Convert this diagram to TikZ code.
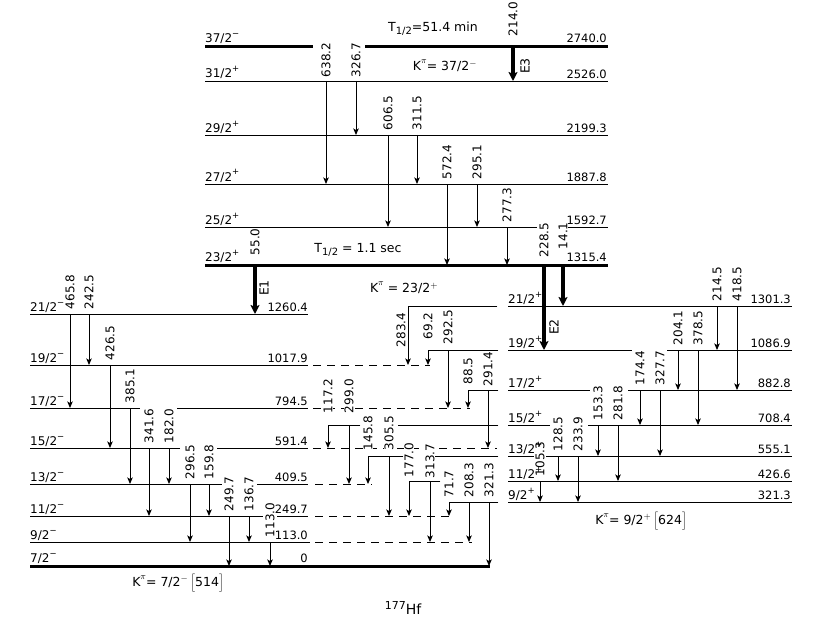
\documentclass[tikz,border=0pt]{standalone}
\usepackage{fontspec}
\setmainfont{DejaVu Sans}
\usetikzlibrary{arrows.meta}
\newcount\trcnt
\tikzset{
  lvl/.style={line width=0.95pt},
  thk/.style={line width=3pt},
  dsh/.style={line width=0.95pt, dash pattern=on 8pt off 6pt},
  leader/.style={line width=0.95pt, line cap=rect},
  tr/.style={line width=0.9pt, -{Stealth[length=6.5pt,width=5.5pt,inset=1.5pt]}},
  trthick/.style={line width=3.3pt, -{Stealth[length=9pt,width=9pt,inset=2pt]}},
  lab/.style={font=\fontsize{12}{13}\selectfont, inner sep=0.6pt, fill=white, rotate=90, anchor=west},
  en/.style={font=\fontsize{11.5}{13}\selectfont, inner sep=0pt, anchor=base east},
  sp/.style={font=\fontsize{12}{13}\selectfont, inner sep=0pt, anchor=base west},
  txt/.style={font=\fontsize{12.5}{14}\selectfont, inner sep=0pt}
}
\newcommand\trx[5][4]{%
  \global\advance\trcnt by 1
  \draw[tr] (#2,#3) -- (#2,#4);
  \node[lab] (g\the\trcnt) at (#2,#3-#1) {#5};
}
\newcommand\trt[5]{%
  \global\advance\trcnt by 1
  \draw[trthick] (#1,#2) -- (#1,#3);
  \node[lab] (g\the\trcnt) at (#1,#4) {#5};
}
\newcommand\spn[2]{#1\raisebox{0.5em}{\fontsize{8.5}{8.5}\selectfont #2}}
\newcommand\hlf{\raisebox{-0.45ex}{\fontsize{10}{10}\selectfont 1/2}}
\newcommand\kpi{K\raisebox{0.55em}{\fontsize{9}{9}\selectfont$\pi$}}
\begin{document}
\begin{tikzpicture}[x=1pt,y=-1pt]
\useasboundingbox (0,0) rectangle (831,626);
% ---------- upper band ----------
\draw[thk] (205,47) -- (313,47); \draw[thk] (365,47) -- (608,47);
\draw[lvl] (205,81) -- (608,81);
\draw[lvl] (205,135) -- (608,135);
\draw[lvl] (205,184) -- (608,184);
\draw[lvl] (205,227) -- (537,227); \draw[lvl] (567,227) -- (608,227);
\draw[thk] (205,265) -- (608,265);
% ---------- left band ----------
\draw[lvl] (30,314) -- (308,314);
\draw[lvl] (30,365) -- (308,365); \draw[dsh] (313,365) -- (430,365);
\draw[lvl] (30,408) -- (140,408); \draw[lvl] (177,408) -- (308,408); \draw[dsh] (313,408) -- (470,408);
\draw[lvl] (30,448) -- (180,448); \draw[lvl] (217,448) -- (308,448); \draw[dsh] (313,448) -- (497,448);
\draw[lvl] (30,484) -- (222,484); \draw[lvl] (257,484) -- (308,484); \draw[dsh] (315,484) -- (372,484);
\draw[lvl] (30,516) -- (263,516); \draw[lvl] (277,516) -- (308,516); \draw[dsh] (315,516) -- (452,516);
\draw[lvl] (30,542) -- (310,542); \draw[dsh] (315,542) -- (472,542);
\draw[thk] (30,566) -- (490,566);
% ---------- right band ----------
\draw[lvl] (508,306) -- (792,306); \draw[leader] (408,306) -- (497,306);
\draw[lvl] (508,350) -- (632,350); \draw[lvl] (667,350) -- (792,350); \draw[leader] (428,350) -- (498,350);
\draw[lvl] (508,390) -- (590,390); \draw[lvl] (628,390) -- (792,390); \draw[leader] (468,390) -- (498,390);
\draw[lvl] (508,425) -- (550,425); \draw[lvl] (588,425) -- (792,425);
\draw[leader] (328,425) -- (360,425); \draw[leader] (398,425) -- (498,425);
\draw[lvl] (508,456) -- (534,456); \draw[lvl] (546,456) -- (792,456);
\draw[leader] (368,456) -- (403,456); \draw[leader] (435,456) -- (498,456);
\draw[lvl] (508,481) -- (792,481); \draw[leader] (409,481) -- (440,481);
\draw[lvl] (508,502) -- (792,502); \draw[leader] (449,502) -- (498,502);
% ---------- transitions: upper band ----------
\trx[3]{326}{81}{184}{638.2}
\trx[3]{356}{81}{135}{326.7}
\trx{388}{135}{227}{606.5}
\trx{417}{135}{184}{311.5}
\trx{447}{184}{265}{572.4}
\trx{477}{184}{227}{295.1}
\trx{507}{227}{265}{277.3}
\trt{513}{47}{81}{37}{214.0}
\trt{255}{265}{314}{256}{55.0}
\trt{544}{265}{350}{258}{228.5}
\trt{563}{265}{306}{250}{14.1}
% ---------- transitions: left band ----------
\trx{70}{314}{408}{465.8}
\trx{89}{314}{365}{242.5}
\trx{110}{365}{448}{426.5}
\trx{130}{408}{484}{385.1}
\trx{149}{448}{516}{341.6}
\trx{169}{448}{484}{182.0}
\trx{190}{484}{542}{296.5}
\trx{209}{484}{516}{159.8}
\trx{229}{516}{566}{249.7}
\trx{249}{516}{542}{136.7}
\trx{270}{542}{566}{113.0}
% ---------- transitions: inter-band ----------
\draw[tr] (408,306) -- (408,365);
\node[lab] (g283) at (401,348) {283.4};
\trx[10]{428}{350}{365}{69.2}
\trx[5]{448}{350}{408}{292.5}
\trx[5]{468}{390}{408}{88.5}
\trx[3]{488}{390}{448}{291.4}
\trx[11]{328}{425}{448}{117.2}
\trx[11]{349}{425}{484}{299.0}
\trx[5]{368}{456}{484}{145.8}
\trx[5]{389}{456}{516}{305.5}
\trx[3]{409}{481}{516}{177.0}
\trx[2]{430}{481}{542}{313.7}
\trx[4]{449}{502}{516}{71.7}
\trx[4]{469}{502}{542}{208.3}
\trx[4]{489}{502}{566}{321.3}
% ---------- transitions: right band ----------
\trx{717}{306}{350}{214.5}
\trx{737}{306}{390}{418.5}
\trx{678}{350}{390}{204.1}
\trx{698}{350}{425}{378.5}
\trx{640}{390}{425}{174.4}
\trx{660}{390}{456}{327.7}
\trx{598}{425}{456}{153.3}
\trx{618}{425}{481}{281.8}
\trx{558}{456}{481}{128.5}
\trx{578}{456}{502}{233.9}
\trx{540}{481}{502}{105.3}
% ---------- energies ----------
\node[en] (e2740) at (607,43) {2740.0};
\node[en] (e2526) at (607,78.5) {2526.0};
\node[en] (e2199) at (607,132.5) {2199.3};
\node[en] (e1887) at (607,181.5) {1887.8};
\node[en] (e1592) at (607,224.5) {1592.7};
\node[en] (e1315) at (607,261.5) {1315.4};
\node[en] (e1260) at (308,311.5) {1260.4};
\node[en] (e1017) at (308,362.5) {1017.9};
\node[en] (e794) at (308,405.5) {794.5};
\node[en] (e591) at (308,445.5) {591.4};
\node[en] (e409) at (308,481.5) {409.5};
\node[en] (e249) at (308,513.5) {249.7};
\node[en] (e113) at (308,539.5) {113.0};
\node[en] (e0) at (308,562.5) {0};
\node[en] (e1301) at (791,303.5) {1301.3};
\node[en] (e1086) at (791,347.5) {1086.9};
\node[en] (e882) at (791,387.5) {882.8};
\node[en] (e708) at (791,422.5) {708.4};
\node[en] (e555) at (791,453.5) {555.1};
\node[en] (e426) at (791,478.5) {426.6};
\node[en] (e321) at (791,499.5) {321.3};
% ---------- spins ----------
\node[sp] (s37) at (205,43) {\spn{37/2}{−}};
\node[sp] (s31) at (205,78) {\spn{31/2}{+}};
\node[sp] (s29) at (205,132) {\spn{29/2}{+}};
\node[sp] (s27) at (205,181) {\spn{27/2}{+}};
\node[sp] (s25) at (205,224) {\spn{25/2}{+}};
\node[sp] (s23) at (205,261) {\spn{23/2}{+}};
\node[sp] (l21) at (30,311) {\spn{21/2}{−}};
\node[sp] (l19) at (30,362) {\spn{19/2}{−}};
\node[sp] (l17) at (30,405) {\spn{17/2}{−}};
\node[sp] (l15) at (30,445) {\spn{15/2}{−}};
\node[sp] (l13) at (30,481) {\spn{13/2}{−}};
\node[sp] (l11) at (30,513) {\spn{11/2}{−}};
\node[sp] (l9) at (30,539) {\spn{9/2}{−}};
\node[sp] (l7) at (30,562) {\spn{7/2}{−}};
\node[sp] (r21) at (508,303) {\spn{21/2}{+}};
\node[sp] (r19) at (508,347) {\spn{19/2}{+}};
\node[sp] (r17) at (508,387) {\spn{17/2}{+}};
\node[sp] (r15) at (508,422) {\spn{15/2}{+}};
\node[sp] (r13) at (508,453) {\spn{13/2}{+}};
\node[sp] (r11) at (508,478) {\spn{11/2}{+}};
\node[sp] (r9) at (508,499) {\spn{9/2}{+}};
% ---------- texts ----------
\node[txt] (thA) at (433,29) {T\hlf=51.4 min};
\node[txt] (kA) at (445,66) {\kpi= 37/2$^{-}$};
\node[txt] (thB) at (358,250) {T\hlf\ = 1.1 sec};
\node[txt] (kB) at (404,288) {\kpi\ = 23/2$^{+}$};
\node[txt, rotate=90] (E3) at (525,66) {E3};
\node[txt, rotate=90] (E1) at (264,288) {E1};
\node[txt, rotate=90] (E2) at (554,327) {E2};
\node[txt] (kC) at (178,583) {\kpi= 7/2$^{-}$\,$\Bigl[$514$\Bigr]$};
\node[txt] (kD) at (641,521) {\kpi= 9/2$^{+}$\,$\Bigl[$624$\Bigr]$};
\node[txt] (hf) at (403,608) {\raisebox{0.7ex}{\fontsize{11}{11}\selectfont 177}\fontsize{14}{14}\selectfont Hf};
\end{tikzpicture}
\end{document}
